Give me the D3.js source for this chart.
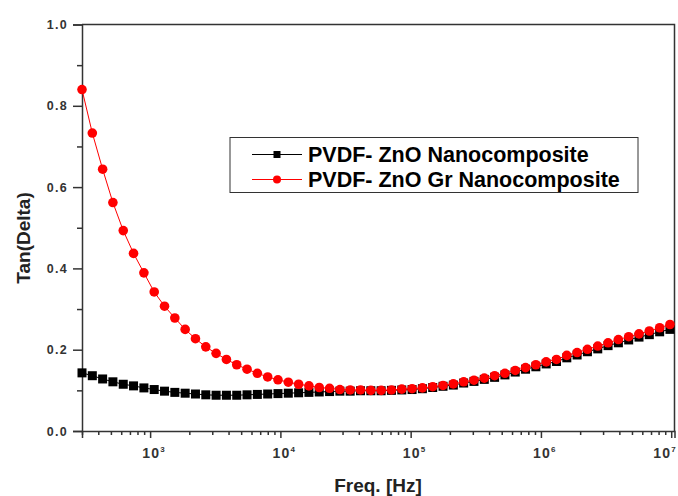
<!DOCTYPE html>
<html>
<head>
<meta charset="utf-8">
<script src="https://cdn.jsdelivr.net/npm/d3@7"></script>
<style>
  body { margin: 0; background: #fff; }
  text { font-family: 'Liberation Sans', Arial, sans-serif; font-weight: bold; }
</style>
</head>
<body>
<script>
// frequencies of the sweep [Hz]
const freq = [300, 360, 432, 518, 622, 746, 896, 1075, 1290, 1548, 1858, 2229, 2675, 3210,
  3852, 4622, 5546, 6656, 7987, 9584, 11501, 13802, 16562, 19874, 23849, 28619, 34343,
  41211, 49453, 59344, 71213, 85456, 102547, 123056, 147667, 177200, 212641, 255169,
  306202, 367442, 440931, 529118, 634942, 761930, 914316, 1097179, 1316615, 1579938,
  1895925, 2275110, 2730132, 3276159, 3931391, 4717669, 5661203, 6793443, 8152132, 9782558]

const tanZnO = [0.143, 0.136, 0.128, 0.121, 0.115, 0.111, 0.106, 0.102, 0.098, 0.095,
  0.093, 0.091, 0.089, 0.088, 0.088, 0.088, 0.089, 0.090, 0.091, 0.092, 0.093, 0.094,
  0.095, 0.096, 0.097, 0.098, 0.098, 0.099, 0.099, 0.099, 0.100, 0.101, 0.102, 0.104,
  0.107, 0.110, 0.113, 0.118, 0.122, 0.127, 0.132, 0.138, 0.145, 0.152, 0.158, 0.165,
  0.171, 0.180, 0.187, 0.195, 0.202, 0.210, 0.217, 0.224, 0.231, 0.237, 0.244, 0.250]

const tanZnOGr = [0.840, 0.733, 0.644, 0.562, 0.493, 0.437, 0.389, 0.342, 0.307, 0.278,
  0.250, 0.227, 0.207, 0.191, 0.176, 0.163, 0.152, 0.142, 0.133, 0.126, 0.120, 0.115,
  0.111, 0.107, 0.105, 0.102, 0.101, 0.101, 0.100, 0.100, 0.101, 0.103, 0.104, 0.106,
  0.109, 0.112, 0.116, 0.121, 0.125, 0.130, 0.136, 0.142, 0.149, 0.156, 0.163, 0.170,
  0.176, 0.186, 0.193, 0.201, 0.209, 0.217, 0.225, 0.232, 0.239, 0.246, 0.254, 0.262]

const seriesNames = ['PVDF- ZnO Nanocomposite', 'PVDF- ZnO Gr Nanocomposite']
const yTicks = [0, 0.2, 0.4, 0.6, 0.8, 1.0]
const yMinorTicks = [0.1, 0.3, 0.5, 0.7, 0.9]
const xMajorTicks = [1e3, 1e4, 1e5, 1e6, 1e7]

const width = 678
const height = 496
const margin = { left: 82, top: 24.5, right: 3.5, bottom: 65 }
const axisColor = '#333333'

const svg = d3.select('body').append('svg')
  .attr('width', width)
  .attr('height', height)

svg.append('rect')
  .attr('width', width)
  .attr('height', height)
  .style('fill', '#fff')

const x = d3.scaleLog()
  .domain([300, 1.06e7])
  .range([margin.left, width - margin.right])

const y = d3.scaleLinear()
  .domain([0, 1])
  .range([height - margin.bottom, margin.top])

// frame (top + right)
svg.append('path')
  .attr('d', `M${x.range()[0]},${y(1)}H${x.range()[1]}V${y(0)}`)
  .style('fill', 'none')
  .style('stroke', axisColor)
  .style('stroke-width', 1.5)

// y axis
const yAxisG = svg.append('g')
  .attr('transform', `translate(${margin.left},0)`)
  .call(d3.axisLeft(y).tickValues(yTicks).tickSize(9).tickPadding(5).tickFormat(d3.format('.1f')))
svg.append('g')
  .attr('transform', `translate(${margin.left},0)`)
  .call(d3.axisLeft(y).tickValues(yMinorTicks).tickSize(5).tickFormat(''))
  .call(g => g.select('.domain').remove())

// x axis
svg.append('g')
  .attr('transform', `translate(0,${y(0)})`)
  .call(d3.axisBottom(x).tickValues(xMajorTicks).tickSize(7).tickFormat(''))
svg.append('g')
  .attr('transform', `translate(0,${y(0)})`)
  .call(d3.axisBottom(x).tickValues(x.ticks().filter(d => !xMajorTicks.includes(d))).tickSize(4).tickFormat(''))
  .call(g => g.select('.domain').remove())

svg.selectAll('.domain, .tick line')
  .style('stroke', axisColor)
  .style('stroke-width', 1.5)

yAxisG.selectAll('.tick text')
  .style('font-size', '12.5px')
  .style('letter-spacing', '1.3px')
  .style('fill', axisColor)

// x tick labels 10^n
xMajorTicks.forEach(v => {
  const last = v === xMajorTicks[xMajorTicks.length - 1]
  const t = svg.append('text')
    .attr('x', last ? width - 1 : x(v) + 4)
    .attr('y', y(0) + 27)
    .attr('text-anchor', last ? 'end' : 'middle')
    .style('font-size', '14px')
    .style('letter-spacing', '1.2px')
    .style('fill', axisColor)
  t.append('tspan').text('10')
  t.append('tspan')
    .attr('dy', -6)
    .style('font-size', '8px')
    .text(Math.round(Math.log10(v)))
})

// axis titles
svg.append('text')
  .attr('x', 378)
  .attr('y', 492)
  .attr('text-anchor', 'middle')
  .style('font-size', '19px')
  .style('fill', '#222')
  .text('Freq. [Hz]')

svg.append('text')
  .attr('transform', 'translate(30,238) rotate(-90)')
  .attr('text-anchor', 'middle')
  .style('font-size', '19px')
  .style('fill', '#222')
  .text('Tan(Delta)')

// series
const line = d3.line()
  .x((d, i) => x(freq[i]))
  .y(d => y(d))

svg.append('path')
  .datum(tanZnO)
  .attr('d', line)
  .style('fill', 'none')
  .style('stroke', '#000')
  .style('stroke-width', 1)

svg.selectAll('.sq')
  .data(tanZnO)
  .enter()
  .append('rect')
  .attr('class', 'sq')
  .attr('x', (d, i) => x(freq[i]) - 4.5)
  .attr('y', d => y(d) - 4.5)
  .attr('width', 9)
  .attr('height', 9)
  .style('fill', '#000')

svg.append('path')
  .datum(tanZnOGr)
  .attr('d', line)
  .style('fill', 'none')
  .style('stroke', '#ff0000')
  .style('stroke-width', 1)

svg.selectAll('.dot')
  .data(tanZnOGr)
  .enter()
  .append('circle')
  .attr('class', 'dot')
  .attr('cx', (d, i) => x(freq[i]))
  .attr('cy', d => y(d))
  .attr('r', 4.8)
  .style('fill', '#ff0000')

// legend
const legend = svg.append('g').attr('transform', 'translate(230,137.5)')
legend.append('rect')
  .attr('width', 408)
  .attr('height', 55)
  .style('fill', '#fff')
  .style('stroke', '#333')
  .style('stroke-width', 1)

const legendColors = ['#000', '#ff0000']
seriesNames.forEach((name, i) => {
  const row = legend.append('g').attr('transform', `translate(0,${17 + i * 25})`)
  row.append('line')
    .attr('x1', 22).attr('x2', 72)
    .style('stroke', legendColors[i])
    .style('stroke-width', 1.2)
  if (i === 0) {
    row.append('rect')
      .attr('x', 43.5).attr('y', -3.5).attr('width', 7).attr('height', 7)
      .style('fill', legendColors[i])
  } else {
    row.append('circle')
      .attr('cx', 47).attr('r', 4)
      .style('fill', legendColors[i])
  }
  row.append('text')
    .attr('x', 78)
    .attr('y', 7.5)
    .style('font-size', '21.5px')
    .style('fill', '#000')
    .text(name)
})
</script>
</body>
</html>
